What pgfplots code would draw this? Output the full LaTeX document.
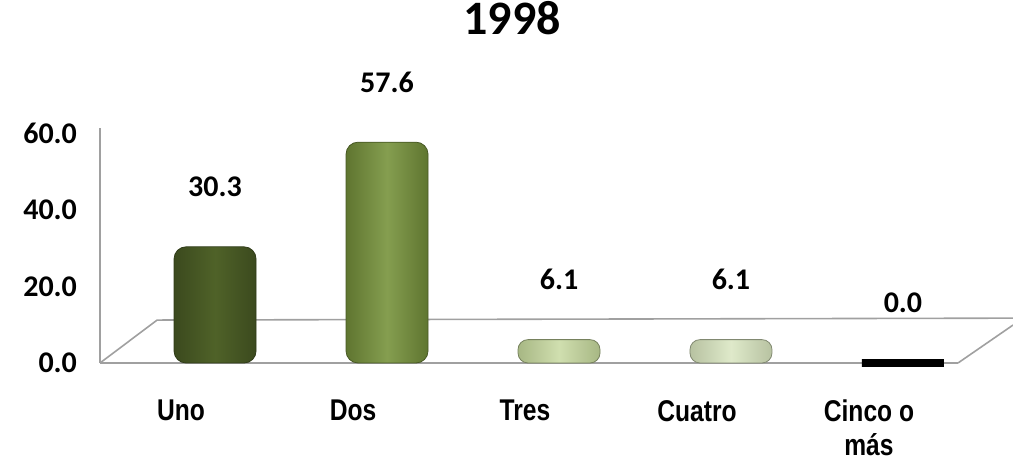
\documentclass[border=0pt]{standalone}
\usepackage{fontspec}
\usepackage{pgfplots}
\pgfplotsset{compat=1.18}
\setmainfont{Carlito}
\newfontfamily\narrowfont[FakeStretch=0.82]{Liberation Sans}
\definecolor{cUno}{HTML}{4F6228}
\definecolor{cDos}{HTML}{77933C}
\definecolor{cTres}{HTML}{C4D79B}
\definecolor{cCuatro}{HTML}{D7E4BD}
\definecolor{floorc}{HTML}{A0A0A0}
\begin{document}
\begin{tikzpicture}
\useasboundingbox (-50pt,-51pt) rectangle (456.5pt,181.5pt);
\begin{axis}[
 scale only axis, width=429pt, height=117.5pt,
 xmin=-0.669, xmax=4.32, ymin=0, ymax=61.3,
 axis lines*=left, axis line style={floorc, line width=0.8pt},
 ytick={0,20,40,60}, major tick length=0pt,
 yticklabel style={font=\bfseries\fontsize{15}{17}\selectfont, xshift=-8pt},
 /pgf/number format/.cd, fixed, fixed zerofill, precision=1, assume math mode=true,
 /pgfplots/.cd,
 xtick={0,...,4}, xticklabels={Uno,Dos,Tres,Cuatro,{Cinco o\\más}},
 xticklabel style={font=\narrowfont\bfseries\fontsize{15}{17}\selectfont, align=center, anchor=north, yshift=-15pt, xshift=-17pt},
 ybar, bar width=41pt, bar shift=0pt,
 nodes near coords,
 nodes near coords style={font=\bfseries\fontsize{15}{17}\selectfont, anchor=center, yshift=30pt, text=black},
 clip=false,
 title={1998},
 title style={font=\bfseries\fontsize{24}{28}\selectfont, at={(0.5,1)}, anchor=center, yshift=49pt, xshift=-8.5pt},
]
\draw[floorc, line width=0.8pt] (axis cs:-0.669,0) -- (axis cs:-0.337,11.2) -- (axis cs:4.64,11.7);
\draw[floorc, line width=0.8pt] (axis cs:4.32,0) -- (axis cs:4.64,9.9);
\addplot[draw=cUno!60!black, rounded corners=6pt, left color=cUno!75!black, right color=cUno!75!black, middle color=cUno] coordinates {(0,30.3)};
\addplot[draw=cDos!60!black, rounded corners=6pt, left color=cDos!80!black, right color=cDos!80!black, middle color=cDos!90!white] coordinates {(1,57.6)};
\addplot[draw=cTres!60!black, rounded corners=5pt, left color=cTres!85!black, right color=cTres!85!black, middle color=cTres!80!white] coordinates {(2,6.1)};
\addplot[draw=cCuatro!60!black, rounded corners=5pt, left color=cCuatro!85!black, right color=cCuatro!85!black, middle color=cCuatro!80!white] coordinates {(3,6.1)};
\addplot[draw=black, fill=black, line width=4pt] coordinates {(4,0.0)};
\end{axis}
\end{tikzpicture}
\end{document}
